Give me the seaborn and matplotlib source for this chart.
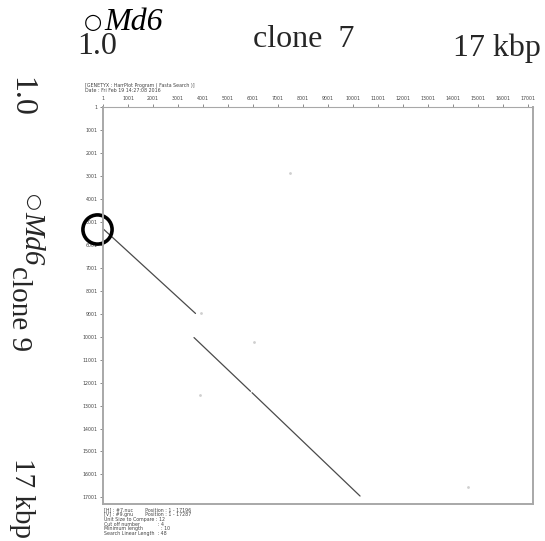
import matplotlib
matplotlib.use("Agg")
import matplotlib.pyplot as plt
import seaborn as sns
import pandas as pd
import numpy as np

# ---- data ----
seg_ids = [1, 2, 3]
seg_x_start = [1, 3640, 5960]
seg_x_end = [3700, 5900, 10280]
seg_y_start = [5300, 10040, 12440]
seg_y_end = [8990, 12380, 16940]

dot_x = [7480, 3920, 6040, 3880, 14600]
dot_y = [2880, 8980, 10240, 12550, 16560]

tick_values = list(range(1, 17002, 1000))
tick_labels = [str(v) for v in tick_values]

len_h = 17196
len_v = 17287

header_lines = ["[GENETYX : HarrPlot Program ( Fasta Search )]",
                "Date : Fri Feb 19 14:27:08 2016"]
footer_lines = ["[H] : #7.nuc        Position : 1 - 17196",
                "[V] : #9.gnu        Position : 1 - 17287",
                "Unit Size to Compare : 12",
                "Cut off number            : 4",
                "Minimum length            : 10",
                "Search Linear Length  : 48"]

circle_x = -240
circle_y = 5320

# ---- build frames ----
rows = []
for s, xs, xe, ys, ye in zip(seg_ids, seg_x_start, seg_x_end, seg_y_start, seg_y_end):
    rows.append({"seg": s, "x": xs, "y": ys})
    rows.append({"seg": s, "x": xe, "y": ye})
seg_df = pd.DataFrame(rows)
dot_df = pd.DataFrame({"x": dot_x, "y": dot_y})

sns.set_theme(style="white")
plt.rcParams['font.family'] = ['DejaVu Sans']

W, H = 545, 541
fig = plt.figure(figsize=(W / 100, H / 100), dpi=100)
L, R, T, B = 103, 533, 107, 504
ax = fig.add_axes([L / W, 1 - B / H, (R - L) / W, (B - T) / H])

sns.lineplot(data=seg_df, x="x", y="y", units="seg", estimator=None, sort=False,
             color="#4a4a4a", linewidth=0.9, ax=ax, legend=False)
sns.scatterplot(data=dot_df, x="x", y="y", color="#cfcfcf", s=4, linewidth=0,
                ax=ax, legend=False)

ax.set_xlim(1, len_h)
ax.set_ylim(len_v, 1)
ax.set_xlabel("")
ax.set_ylabel("")
ax.xaxis.tick_top()
ax.set_xticks(tick_values)
ax.set_xticklabels(tick_labels)
ax.set_yticks(tick_values)
ax.set_yticklabels(tick_labels)
ax.tick_params(axis="both", which="major", labelsize=3.4, labelcolor="#444444",
               length=2.5, width=0.6, color="#777777", pad=1.5, direction="out",
               top=True, left=True, bottom=False, right=False)
for side, sp in ax.spines.items():
    sp.set_visible(True)
    sp.set_color("#a8a8a8")
    sp.set_linewidth(1.4 if side in ("left", "bottom", "right") else 0.8)

# black circle annotation
ax.plot([circle_x], [circle_y], marker="o", markersize=21, markerfacecolor="none",
        markeredgecolor="black", markeredgewidth=2.6, clip_on=False)

# header / footer small texts
def fx(px):
    return px / W

def fy(py):
    return 1 - py / H

for i, line in enumerate(header_lines):
    fig.text(fx(85), fy(85 + i * 6), line, fontsize=3.4, color="#444444",
             ha="left", va="center")
for i, line in enumerate(footer_lines):
    fig.text(fx(104), fy(510 + i * 4.7), line, fontsize=3.4, color="#444444",
             ha="left", va="center")

serif = ["Liberation Serif", "DejaVu Serif"]
sym = ["DejaVu Sans"]
big = 23
side_big = 21

# top labels
fig.text(fx(84), fy(28), "\u25cb", fontsize=15, family=sym, ha="left", va="baseline", color="black")
fig.text(fx(104), fy(30), "Md6", fontsize=big, family=serif, style="italic",
         ha="left", va="baseline", color="black")
fig.text(fx(77), fy(54), "1.0", fontsize=big, family=serif, ha="left", va="baseline")
fig.text(fx(304), fy(47), "clone  7", fontsize=big, family=serif, ha="center", va="baseline")
fig.text(fx(541), fy(56), "17 kbp", fontsize=big, family=serif, ha="right", va="baseline")

# left labels (rotated)
fig.text(fx(21), fy(97), "1.0", fontsize=big, family=serif, rotation=270,
         ha="center", va="center")
fig.text(fx(33), fy(203), "\u25cb", fontsize=14, family=sym, rotation=270,
         ha="center", va="center")
fig.text(fx(32), fy(238), "Md6", fontsize=side_big, family=serif, style="italic",
         rotation=270, ha="center", va="center")
fig.text(fx(19), fy(309), "clone 9", fontsize=side_big, family=serif, rotation=270,
         ha="center", va="center")
fig.text(fx(22), fy(498), "17 kbp", fontsize=side_big, family=serif, rotation=270,
         ha="center", va="center")

fig.savefig("out.png", dpi=100, facecolor="white")
